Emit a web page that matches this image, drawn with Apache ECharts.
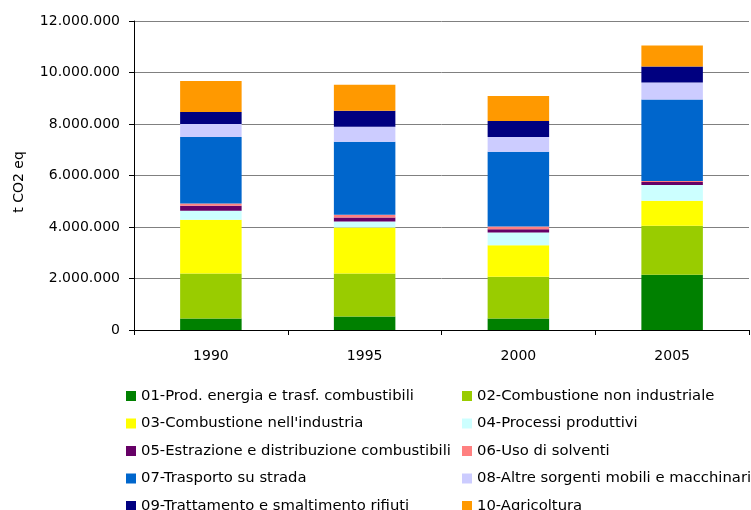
<!DOCTYPE html>
<html>
<head>
<meta charset="utf-8">
<script src="https://cdn.jsdelivr.net/npm/echarts@6/dist/echarts.min.js"></script>
<style>html,body{margin:0;padding:0;background:#fff}#c{width:751px;height:510px}</style>
</head>
<body>
<div id="c"></div>
<script>
var years = ['1990', '1995', '2000', '2005'];
var seriesNames = [
  '01-Prod. energia e trasf. combustibili',
  '02-Combustione non industriale',
  '03-Combustione nell\'industria',
  '04-Processi produttivi',
  '05-Estrazione e distribuzione combustibili',
  '06-Uso di solventi',
  '07-Trasporto su strada',
  '08-Altre sorgenti mobili e macchinari',
  '09-Trattamento e smaltimento rifiuti',
  '10-Agricoltura'
];
var s01 = [450000, 520000, 450000, 2150000];
var s02 = [1740000, 1670000, 1620000, 1900000];
var s03 = [2090000, 1790000, 1220000, 970000];
var s04 = [350000, 230000, 500000, 610000];
var s05 = [200000, 160000, 120000, 120000];
var s06 = [80000, 110000, 110000, 40000];
var s07 = [2590000, 2830000, 2900000, 3160000];
var s08 = [500000, 580000, 580000, 660000];
var s09 = [470000, 620000, 620000, 620000];
var s10 = [1200000, 1010000, 970000, 820000];
var colors = ['#008000', '#99CC00', '#FFFF00', '#CCFFFF', '#660066', '#FF8080', '#0066CC', '#CCCCFF', '#000080', '#FF9900'];
var yTicks = [0, 2000000, 4000000, 6000000, 8000000, 10000000, 12000000];

var allData = [s01, s02, s03, s04, s05, s06, s07, s08, s09, s10];
var FONT = 'DejaVu Sans';

function fmt(v) {
  return String(v).replace(/\B(?=(\d{3})+(?!\d))/g, '.');
}

var series = seriesNames.map(function (n, i) {
  return {
    name: n,
    type: 'bar',
    stack: 'total',
    barWidth: '40%',
    data: allData[i],
    itemStyle: { color: colors[i] },
    emphasis: { disabled: true }
  };
});

var legends = seriesNames.map(function (n, i) {
  var row = Math.floor(i / 2);
  var col = i % 2;
  return {
    orient: 'horizontal',
    left: col === 0 ? 126 : 462,
    top: 396 + row * 27.5 - 8,
    padding: 0,
    itemWidth: 10,
    itemHeight: 10,
    icon: 'rect',
    selectedMode: false,
    data: [n],
    textStyle: { fontFamily: FONT, fontSize: 14.8, color: '#000', lineHeight: 16 }
  };
});

var chart = echarts.init(document.getElementById('c'), null, { renderer: 'canvas' });
chart.setOption({
  animation: false,
  backgroundColor: '#fff',
  grid: { left: 134, right: 2, top: 21, bottom: 180, containLabel: false },
  legend: legends,
  xAxis: {
    type: 'category',
    data: years,
    boundaryGap: true,
    axisLine: { lineStyle: { color: '#000', width: 1 } },
    axisTick: { show: true, length: 5, lineStyle: { color: '#000' } },
    axisLabel: { fontFamily: FONT, fontSize: 14, color: '#000', margin: 19 }
  },
  yAxis: {
    type: 'value',
    min: yTicks[0],
    max: yTicks[yTicks.length - 1],
    interval: 2000000,
    name: 't CO2 eq',
    nameLocation: 'middle',
    nameRotate: 90,
    nameGap: 108,
    nameTextStyle: { fontFamily: FONT, fontSize: 14, color: '#000', padding: [0, 13, 0, 0] },
    axisLine: { show: true, lineStyle: { color: '#000', width: 1 } },
    axisTick: { show: true, length: 5, lineStyle: { color: '#000' } },
    axisLabel: { fontFamily: FONT, fontSize: 14, color: '#000', margin: 14, formatter: fmt },
    splitLine: { show: true, lineStyle: { color: '#808080', width: 1 } }
  },
  series: series
});
</script>
</body>
</html>
